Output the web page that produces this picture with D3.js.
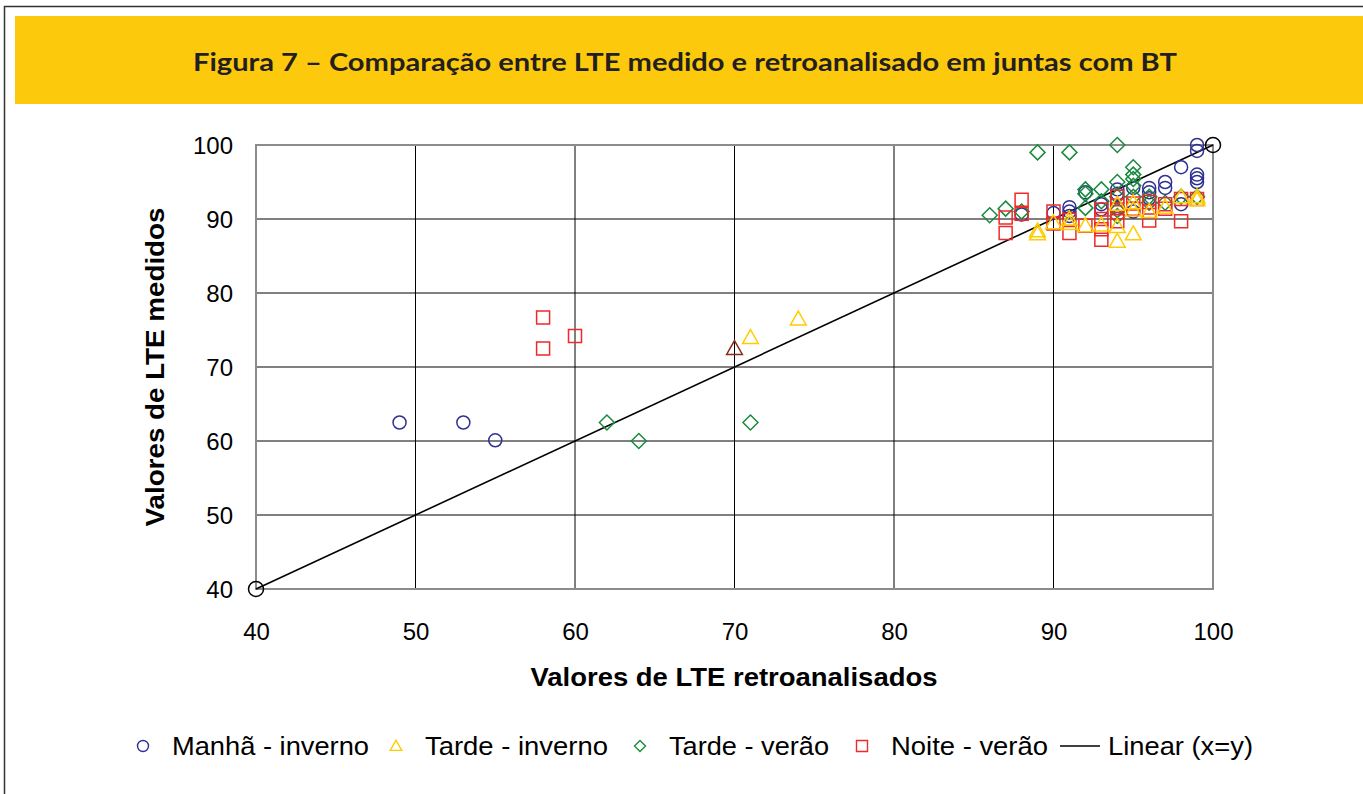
<!DOCTYPE html>
<html>
<head>
<meta charset="utf-8">
<script src="https://cdn.jsdelivr.net/npm/d3@7"></script>
<style>
  body { margin: 0; background: #fff; }
  text { font-family: "Liberation Sans", Arial, sans-serif; }
</style>
</head>
<body>
<script>
    // ---- data ----
    var xTicks = [40, 50, 60, 70, 80, 90, 100],
        yTicks = [40, 50, 60, 70, 80, 90, 100];

    var manhaInverno = [
        [49, 62.5], [53, 62.5], [55, 60.1],
        [99, 100], [99, 99.2], [99, 96], [99, 95.5], [99, 95], [98, 97], [98, 92],
        [97, 95], [97, 94.2], [96, 94.2], [96, 93.6], [96, 92.8], [95, 94.2], [95, 91],
        [94, 94], [94, 93.4], [94, 91.5], [93, 92], [93, 91.3], [92, 93.6],
        [91, 91.6], [91, 91], [91, 90.4], [90, 90.8], [88, 90.6]
    ];
    var tardeInverno = [
        [71, 74], [74, 76.5],
        [89, 88], [89, 88.4], [90, 89.5], [91, 90], [91, 89.4], [92, 89.1], [93, 89.2],
        [94, 87], [94, 89], [94, 92], [95, 88], [95, 91.2], [95, 92.2], [96, 91],
        [97, 91.6], [98, 93], [99, 93], [99, 92.6]
    ];
    var tardeVerao = [
        [62, 62.5], [64, 60], [71, 62.5],
        [86, 90.5], [87, 91.4], [88, 91], [89, 99], [91, 99], [94, 100],
        [92, 94], [92, 93.4], [93, 94], [94, 95], [94, 93], [94, 91.2], [94, 90.4],
        [95, 97], [95, 96], [95, 95.4], [95, 94.5], [95, 93], [92, 91.5], [93, 92.4],
        [96, 93], [96, 92.2], [97, 92.2], [98, 93], [99, 93]
    ];
    var noiteVerao = [
        [58, 76.7], [58, 72.5], [60, 74.2],
        [87, 90.2], [87, 88.1], [88, 92.6], [88, 90.7], [90, 91], [90, 89.4],
        [91, 89.9], [91, 88.1], [92, 89.1], [93, 91.3], [93, 90], [93, 88.6], [93, 87.2],
        [94, 93], [94, 91.8], [94, 90.9], [94, 89.7], [95, 92.1], [95, 91.4],
        [96, 92.3], [96, 91], [96, 89.8], [97, 92], [97, 91.4],
        [98, 92.7], [98, 89.7], [99, 92.7]
    ];
    var destaque = [[70, 72.5]];        // brown triangle
    var linear = [[40, 40], [100, 100]];

    var legendItems = [
        {label: 'Manhã - inverno', shape: 'circle', color: '#2e3192'},
        {label: 'Tarde - inverno', shape: 'triangle', color: '#ffcc00'},
        {label: 'Tarde - verão', shape: 'diamond', color: '#1a8a3f'},
        {label: 'Noite - verão', shape: 'square', color: '#ee2a2a'},
        {label: 'Linear (x=y)', shape: 'line', color: '#000'}
    ];

    var W = 1363, H = 794;
    var svg = d3.select('body').append('svg')
            .attr('width', W)
            .attr('height', H);

    // frame + title band
    svg.append('rect').attr('x', 4.5).attr('y', 6.5).attr('width', W).attr('height', H)
            .attr('fill', 'none').attr('stroke', '#333').attr('stroke-width', 1.5);
    svg.append('rect').attr('x', 15).attr('y', 16).attr('width', W - 15).attr('height', 88)
            .attr('fill', '#fdc90d');
    svg.append('text').attr('x', 685).attr('y', 71)
            .attr('text-anchor', 'middle')
            .style('font-family', 'Lato, "DejaVu Sans", sans-serif')
            .style('font-weight', 'bold').style('font-size', '24px')
            .attr('textLength', 984).attr('lengthAdjust', 'spacingAndGlyphs')
            .attr('fill', '#231f20')
            .text('Figura 7 – Comparação entre LTE medido e retroanalisado em juntas com BT');

    var x = d3.scaleLinear().domain([40, 100]).range([256, 1213]),
        y = d3.scaleLinear().domain([40, 100]).range([589, 145]);

    // grid
    var g = svg.append('g');
    g.selectAll('.vg').data(xTicks).enter().append('line')
            .attr('x1', function (d) { return x(d); }).attr('x2', function (d) { return x(d); })
            .attr('y1', y(40)).attr('y2', y(100))
            .attr('stroke', '#000').attr('stroke-width', 1);
    g.selectAll('.hg').data(yTicks).enter().append('line')
            .attr('x1', x(40)).attr('x2', x(100))
            .attr('y1', function (d) { return y(d); }).attr('y2', function (d) { return y(d); })
            .attr('stroke', '#000').attr('stroke-width', 1);
    // plot border (grey)
    g.append('rect').attr('x', x(40)).attr('y', y(100))
            .attr('width', x(100) - x(40)).attr('height', y(40) - y(100))
            .attr('fill', 'none').attr('stroke', '#8c8c8c').attr('stroke-width', 2);

    // axes
    var xAxis = svg.append('g').attr('transform', 'translate(0,' + y(40) + ')')
            .call(d3.axisBottom(x).tickValues(xTicks).tickSize(0).tickPadding(51));
    var yAxis = svg.append('g').attr('transform', 'translate(' + x(40) + ',0)')
            .call(d3.axisLeft(y).tickValues(yTicks).tickSize(0).tickPadding(23));
    [xAxis, yAxis].forEach(function (a) {
        a.select('.domain').remove();
        a.selectAll('text').style('font-family', '"Liberation Sans", Arial, sans-serif')
                .style('font-size', '24px').attr('fill', '#000');
    });
    xAxis.selectAll('text').attr('dy', '0');
    yAxis.selectAll('text').attr('dy', '0.36em');

    svg.append('text').attr('x', 734).attr('y', 686).attr('text-anchor', 'middle')
            .style('font-weight', 'bold').style('font-size', '25px')
            .attr('textLength', 407).attr('lengthAdjust', 'spacingAndGlyphs')
            .text('Valores de LTE retroanalisados');
    svg.append('text').attr('transform', 'translate(164,367) rotate(-90)')
            .attr('text-anchor', 'middle')
            .style('font-weight', 'bold').style('font-size', '25px')
            .attr('textLength', 319).attr('lengthAdjust', 'spacingAndGlyphs')
            .text('Valores de LTE medidos');

    // marker paths
    function shapePath(shape, s) {
        var h = s / 2;
        if (shape === 'circle') return d3.symbol().type(d3.symbolCircle).size(Math.PI * h * h)();
        if (shape === 'square') return 'M' + (-h) + ',' + (-h) + 'H' + h + 'V' + h + 'H' + (-h) + 'Z';
        if (shape === 'diamond') return 'M0,' + (-h) + 'L' + h + ',0L0,' + h + 'L' + (-h) + ',0Z';
        if (shape === 'triangle') return 'M0,' + (-h * 1.05) + 'L' + (h * 1.05) + ',' + (h * 0.8) + 'L' + (-h * 1.05) + ',' + (h * 0.8) + 'Z';
    }

    // trend line
    svg.append('path').datum(linear)
            .attr('d', d3.line().x(function (d) { return x(d[0]); }).y(function (d) { return y(d[1]); }))
            .attr('stroke', '#000').attr('stroke-width', 1.6).attr('fill', 'none');

    function drawSeries(data, shape, color, size) {
        svg.append('g').selectAll('path').data(data).enter().append('path')
                .attr('transform', function (d) { return 'translate(' + x(d[0]) + ',' + y(d[1]) + ')'; })
                .attr('d', shapePath(shape, size))
                .attr('fill', 'none').attr('stroke', color).attr('stroke-width', 1.5);
    }
    drawSeries(manhaInverno, 'circle', legendItems[0].color, 13);
    drawSeries(tardeVerao, 'diamond', legendItems[2].color, 15);
    drawSeries(noiteVerao, 'square', legendItems[3].color, 13);
    drawSeries(tardeInverno, 'triangle', legendItems[1].color, 15);
    drawSeries(destaque, 'triangle', '#8b2a1a', 15);
    drawSeries(linear, 'circle', '#000', 15);

    // legend
    var legendX = [143, 396, 640, 862, 1060],
        labelW = [197, 183, 160, 157, 145];
    var lg = svg.append('g');
    legendItems.forEach(function (it, i) {
        var cx = legendX[i], cy = 746;
        if (it.shape === 'line') {
            lg.append('line').attr('x1', cx).attr('x2', cx + 40).attr('y1', cy).attr('y2', cy)
                    .attr('stroke', '#000').attr('stroke-width', 1.5);
            lg.append('text').attr('x', cx + 48).attr('y', cy + 9)
                    .style('font-size', '25px')
                    .attr('textLength', labelW[i]).attr('lengthAdjust', 'spacingAndGlyphs')
                    .text(it.label);
        } else {
            lg.append('path').attr('transform', 'translate(' + cx + ',' + cy + ')')
                    .attr('d', shapePath(it.shape, 11))
                    .attr('fill', 'none').attr('stroke', it.color).attr('stroke-width', 1.4);
            lg.append('text').attr('x', cx + 29).attr('y', cy + 9)
                    .style('font-size', '25px')
                    .attr('textLength', labelW[i]).attr('lengthAdjust', 'spacingAndGlyphs')
                    .text(it.label);
        }
    });
</script>
</body>
</html>
